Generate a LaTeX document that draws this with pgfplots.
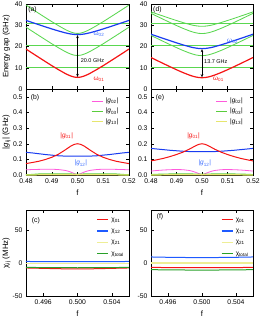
\documentclass[border=0pt]{standalone}
\usepackage{fontspec}
\setmainfont{Liberation Sans}
\usepackage{pgfplots}
\usepackage{pgfplotstable}
\pgfplotsset{compat=1.18}
\usetikzlibrary{arrows.meta}

\definecolor{cred}{RGB}{245,20,20}
\definecolor{cblue}{RGB}{25,60,240}
\definecolor{cbluet}{RGB}{60,110,255}
\definecolor{cgreen}{RGB}{90,215,80}
\definecolor{cpink}{RGB}{255,90,220}
\definecolor{cgreen3}{RGB}{90,205,60}
\definecolor{cyellow}{RGB}{230,230,110}
\definecolor{chiyellow}{RGB}{238,238,150}
\definecolor{chigreen}{RGB}{40,160,40}
\definecolor{chiblue}{RGB}{30,90,255}

\pgfplotstableread{
f w01 w02 gA gB
0.48 18.80 32.29 29.10 39.50
0.4825 16.82 31.27 27.12 37.52
0.485 14.86 30.25 25.16 35.56
0.4875 12.93 29.25 23.23 33.63
0.49 11.00 28.28 21.30 31.70
0.4925 9.18 27.35 19.48 29.88
0.495 7.46 26.51 17.76 28.16
0.49625 6.70 26.15 17.00 27.40
0.4975 6.06 25.86 16.36 26.76
0.49875 5.61 25.67 15.91 26.31
0.5 5.45 25.60 15.75 26.15
0.50125 5.61 25.67 15.91 26.31
0.5025 6.06 25.86 16.36 26.76
0.50375 6.70 26.15 17.00 27.40
0.505 7.46 26.51 17.76 28.16
0.5075 9.18 27.35 19.48 29.88
0.51 11.00 28.28 21.30 31.70
0.5125 12.93 29.25 23.23 33.63
0.515 14.86 30.25 25.16 35.56
0.5175 16.82 31.27 27.12 37.52
0.52 18.80 32.29 29.10 39.50
}\tabA

\pgfplotstableread{
f w01 w02 gA gB gC
0.48 14.80 25.79 25.20 35.60 36.29
0.4825 13.34 24.75 23.74 34.14 35.25
0.485 11.89 23.72 22.29 32.69 34.22
0.4875 10.46 22.71 20.86 31.26 33.21
0.49 9.07 21.72 19.47 29.87 32.22
0.4925 7.75 20.78 18.15 28.55 31.28
0.495 6.57 19.93 16.97 27.37 30.43
0.49625 6.07 19.56 16.47 26.87 30.06
0.4975 5.66 19.27 16.06 26.46 29.77
0.49875 5.39 19.07 15.79 26.19 29.57
0.5 5.30 19.00 15.70 26.10 29.50
0.50125 5.39 19.07 15.79 26.19 29.57
0.5025 5.66 19.27 16.06 26.46 29.77
0.50375 6.07 19.56 16.47 26.87 30.06
0.505 6.57 19.93 16.97 27.37 30.43
0.5075 7.75 20.78 18.15 28.55 31.28
0.51 9.07 21.72 19.47 29.87 32.22
0.5125 10.46 22.71 20.86 31.26 33.21
0.515 11.89 23.72 22.29 32.69 34.22
0.5175 13.34 24.75 23.74 34.14 35.25
0.52 14.80 25.79 25.20 35.60 36.29
}\tabD

\pgfplotstableread{
f g01 g12 g02 g03 g13
0.48 0.073 0.145 0.033 0.001 0.000
0.4825 0.080 0.141 0.035 0.003 0.000
0.485 0.088 0.136 0.036 0.006 0.001
0.4875 0.099 0.131 0.037 0.007 0.001
0.49 0.113 0.127 0.037 0.007 0.001
0.4925 0.132 0.123 0.035 0.007 0.001
0.495 0.158 0.121 0.030 0.007 0.001
0.49625 0.172 0.1205 0.025 0.007 0.001
0.4975 0.186 0.120 0.018 0.006 0.001
0.49875 0.196 0.120 0.009 0.005 0.001
0.5 0.200 0.120 0.000 0.004 0.001
0.50125 0.196 0.120 0.009 0.005 0.001
0.5025 0.186 0.120 0.018 0.006 0.001
0.50375 0.172 0.1205 0.025 0.007 0.001
0.505 0.158 0.121 0.030 0.007 0.001
0.5075 0.132 0.123 0.035 0.007 0.001
0.51 0.113 0.127 0.037 0.007 0.001
0.5125 0.099 0.131 0.037 0.007 0.001
0.515 0.088 0.136 0.036 0.006 0.001
0.5175 0.080 0.141 0.035 0.003 0.000
0.52 0.073 0.145 0.033 0.001 0.000
}\tabB

\pgfplotstableread{
f g01 g12 g02 g03 g13
0.48 0.090 0.170 0.025 0.002 0.000
0.4825 0.098 0.166 0.029 0.004 0.000
0.485 0.107 0.162 0.032 0.005 0.001
0.4875 0.118 0.158 0.034 0.006 0.001
0.49 0.131 0.155 0.035 0.006 0.001
0.4925 0.146 0.152 0.034 0.006 0.001
0.495 0.165 0.150 0.029 0.006 0.001
0.49625 0.176 0.150 0.024 0.006 0.001
0.4975 0.187 0.150 0.017 0.005 0.001
0.49875 0.196 0.150 0.009 0.005 0.001
0.5 0.200 0.150 0.000 0.004 0.001
0.50125 0.196 0.150 0.009 0.005 0.001
0.5025 0.187 0.150 0.017 0.005 0.001
0.50375 0.176 0.150 0.024 0.006 0.001
0.505 0.165 0.150 0.029 0.006 0.001
0.5075 0.146 0.152 0.034 0.006 0.001
0.51 0.131 0.155 0.035 0.006 0.001
0.5125 0.118 0.158 0.034 0.006 0.001
0.515 0.107 0.162 0.032 0.005 0.001
0.5175 0.098 0.166 0.029 0.004 0.000
0.52 0.090 0.170 0.025 0.002 0.000
}\tabE

\pgfplotstableread{
f c01 c12 c21 ctot
0.494 -7.6 2.2 -0.8 -6.8
0.496 -8.2 2.0 -0.8 -7.0
0.498 -8.8 1.9 -0.8 -7.2
0.500 -9.0 1.9 -0.8 -7.3
0.502 -8.8 1.9 -0.8 -7.2
0.504 -8.2 2.0 -0.8 -7.0
0.506 -7.6 2.2 -0.8 -6.8
}\tabC

\pgfplotstableread{
f c01 c12 c21 ctot
0.494 -6.8 9.0 -0.5 -10.2
0.496 -7.0 8.5 -0.5 -10.5
0.498 -7.1 8.2 -0.5 -10.7
0.500 -7.2 8.1 -0.5 -10.8
0.502 -7.1 8.2 -0.5 -10.7
0.504 -7.0 8.5 -0.5 -10.5
0.506 -6.8 9.0 -0.5 -10.2
}\tabF

\pgfplotsset{
  panel/.style={
    scale only axis, anchor=south west, clip=true,
    tick align=inside, major tick length=2.8pt,
    /pgf/number format/assume math mode=true,
    tick label style={font=\fontsize{6.8}{8}\selectfont},
    label style={font=\fontsize{7.8}{9}\selectfont},
    every tick/.style={black, line width=0.4pt},
    axis line style={line width=0.5pt},
    xtick pos=both, ytick pos=both,
    legend cell align=left,
    legend image post style={xscale=0.65, line width=1.3pt},
    legend style={draw=none, fill=none, font=\fontsize{6.5}{7.5}\selectfont,
      nodes={inner sep=0.4pt, text height=4.8pt, text depth=1.7pt},
      column sep=2pt},
  },
  toprow/.style={panel, width=103pt, height=85pt, xmin=0.48, xmax=0.52, ymin=0, ymax=40,
    xtick={0.49,0.5,0.51}, xticklabels={}, ytick={0,10,20,30,40}},
  midrow/.style={panel, width=103pt, height=86pt, xmin=0.48, xmax=0.52, ymin=0, ymax=0.55,
    xtick={0.48,0.49,0.5,0.51,0.52}, ytick={0,0.1,0.2,0.3,0.4,0.5},
    xticklabel style={/pgf/number format/.cd, fixed, fixed zerofill, precision=2},
    yticklabel style={/pgf/number format/.cd, fixed, fixed zerofill, precision=1},
    xlabel={f}, xlabel style={at={(axis description cs:0.5,-0.205)}, anchor=center},
    legend style={at={(axis description cs:0.60,0.925)}, anchor=north west, row sep=2.8pt}},
  botrow/.style={panel, width=103pt, height=86pt, xmin=0.494, xmax=0.506, ymin=-50, ymax=80,
    xtick={0.496,0.5,0.504}, ytick={-50,0,50},
    xticklabel style={/pgf/number format/.cd, fixed, fixed zerofill, precision=3},
    xlabel={f}, xlabel style={at={(axis description cs:0.5,-0.205)}, anchor=center},
    legend style={at={(axis description cs:0.655,0.955)}, anchor=north west, row sep=4.0pt}},
  gl/.style={cgreen, line width=0.85pt},
}

\begin{document}
\begin{tikzpicture}
\useasboundingbox (0,0) rectangle (260pt,317pt);

% (a)
\begin{axis}[toprow, at={(26pt,228pt)},
  ylabel={Energy gap (GHz)}, ylabel style={at={(axis description cs:-0.19,0.5)}, anchor=center}]
\addplot[gl] coordinates {(0.48,10.2) (0.52,10.2)};
\addplot[gl] coordinates {(0.48,20.6) (0.52,20.6)};
\addplot[gl] coordinates {(0.48,30.9) (0.52,30.9)};
\addplot[gl] table[x=f,y=gA] {\tabA};
\addplot[gl] table[x=f,y=gB] {\tabA};
\addplot[cblue, line width=1.2pt] table[x=f,y=w02] {\tabA};
\addplot[cred, line width=1.2pt] table[x=f,y=w01] {\tabA};
\draw[{Stealth[length=3pt,width=2.6pt]}-{Stealth[length=3pt,width=2.6pt]}, line width=0.5pt] (axis cs:0.5,5.7) -- (axis cs:0.5,25.35);
\node[anchor=west, inner sep=0pt, font=\fontsize{5.5}{6.5}\selectfont] at (axis cs:0.5012,13.3) {20.0 GHz};
\node[anchor=west, inner sep=0pt, text=cbluet, font=\fontsize{6.5}{7.5}\selectfont] at (axis cs:0.5062,25.6) {ω\textsubscript{02}};
\node[anchor=west, inner sep=0pt, text=cred, font=\fontsize{6.5}{7.5}\selectfont] at (axis cs:0.5062,4.6) {ω\textsubscript{01}};
\node[anchor=west, inner sep=0pt, font=\fontsize{6.8}{8}\selectfont] at (rel axis cs:0.02,0.935) {(a)};
\end{axis}

% (d)
\begin{axis}[toprow, at={(151pt,228pt)}, width=102pt]
\addplot[gl] coordinates {(0.48,10.2) (0.52,10.2)};
\addplot[gl] coordinates {(0.48,20.6) (0.52,20.6)};
\addplot[gl] coordinates {(0.48,30.9) (0.52,30.9)};
\addplot[gl] table[x=f,y=gA] {\tabD};
\addplot[gl] table[x=f,y=gB] {\tabD};
\addplot[gl] table[x=f,y=gC] {\tabD};
\addplot[cblue, line width=1.2pt] table[x=f,y=w02] {\tabD};
\addplot[cred, line width=1.2pt] table[x=f,y=w01] {\tabD};
\draw[{Stealth[length=3pt,width=2.6pt]}-{Stealth[length=3pt,width=2.6pt]}, line width=0.5pt] (axis cs:0.5,5.55) -- (axis cs:0.5,18.75);
\node[anchor=west, inner sep=0pt, font=\fontsize{5.5}{6.5}\selectfont] at (axis cs:0.5008,12.7) {13.7 GHz};
\node[anchor=west, inner sep=0pt, text=cbluet, font=\fontsize{6.5}{7.5}\selectfont] at (axis cs:0.5098,22.6) {ω\textsubscript{02}};
\node[anchor=west, inner sep=0pt, text=cred, font=\fontsize{6.5}{7.5}\selectfont] at (axis cs:0.5043,4.4) {ω\textsubscript{01}};
\node[anchor=west, inner sep=0pt, font=\fontsize{6.8}{8}\selectfont] at (rel axis cs:0.02,0.93) {(d)};
\end{axis}

% (b)
\begin{axis}[midrow, at={(26pt,142pt)},
  ylabel={|\textit{g}\textsubscript{ij}| (GHz)}, ylabel style={at={(axis description cs:-0.19,0.5)}, anchor=center}]
\addplot[cpink, line width=0.8pt] table[x=f,y=g02] {\tabB};
\addlegendentry{|\textit{g}\textsubscript{02}|}
\addplot[cgreen3, line width=1.2pt] table[x=f,y=g03] {\tabB};
\addlegendentry{|\textit{g}\textsubscript{03}|}
\addplot[cyellow, line width=1.2pt] table[x=f,y=g13] {\tabB};
\addlegendentry{|\textit{g}\textsubscript{13}|}
\addplot[cblue, line width=1.0pt, forget plot] table[x=f,y=g12] {\tabB};
\addplot[cred, line width=1.0pt, forget plot] table[x=f,y=g01] {\tabB};
\node[text=cred, inner sep=0pt, font=\fontsize{6.5}{7.5}\selectfont] at (axis cs:0.4958,0.252) {|\textit{g}\textsubscript{01}|};
\node[text=cbluet, inner sep=0pt, font=\fontsize{6.5}{7.5}\selectfont] at (axis cs:0.5013,0.075) {|\textit{g}\textsubscript{12}|};
\node[anchor=west, inner sep=0pt, font=\fontsize{6.8}{8}\selectfont] at (rel axis cs:0.045,0.895) {(b)};
\end{axis}

% (e)
\begin{axis}[midrow, at={(151pt,142pt)}, width=102pt]
\addplot[cpink, line width=0.8pt] table[x=f,y=g02] {\tabE};
\addlegendentry{|\textit{g}\textsubscript{02}|}
\addplot[cgreen3, line width=1.2pt] table[x=f,y=g03] {\tabE};
\addlegendentry{|\textit{g}\textsubscript{03}|}
\addplot[cyellow, line width=1.2pt] table[x=f,y=g13] {\tabE};
\addlegendentry{|\textit{g}\textsubscript{13}|}
\addplot[cblue, line width=1.0pt, forget plot] table[x=f,y=g12] {\tabE};
\addplot[cred, line width=1.0pt, forget plot] table[x=f,y=g01] {\tabE};
\node[text=cred, inner sep=0pt, font=\fontsize{6.5}{7.5}\selectfont] at (axis cs:0.4967,0.252) {|\textit{g}\textsubscript{01}|};
\node[text=cbluet, inner sep=0pt, font=\fontsize{6.5}{7.5}\selectfont] at (axis cs:0.5011,0.075) {|\textit{g}\textsubscript{12}|};
\node[anchor=west, inner sep=0pt, font=\fontsize{6.8}{8}\selectfont] at (rel axis cs:0.045,0.895) {(e)};
\end{axis}

% (c)
\begin{axis}[botrow, at={(26pt,21pt)},
  ylabel={χ\textsubscript{ij} (MHz)}, ylabel style={at={(axis description cs:-0.19,0.5)}, anchor=center}]
\addplot[cred, line width=1.0pt] table[x=f,y=c01] {\tabC};
\addlegendentry{χ\textsubscript{01}}
\addplot[chiblue, line width=1.0pt] table[x=f,y=c12] {\tabC};
\addlegendentry{χ\textsubscript{12}}
\addplot[chiyellow, line width=1.6pt] table[x=f,y=c21] {\tabC};
\addlegendentry{χ\textsubscript{21}}
\addplot[chigreen, line width=1.0pt] table[x=f,y=ctot] {\tabC};
\addlegendentry{χ\textsubscript{total}}
\node[anchor=west, inner sep=0pt, font=\fontsize{6.8}{8}\selectfont] at (rel axis cs:0.055,0.88) {(c)};
\end{axis}

% (f)
\begin{axis}[botrow, at={(151pt,21pt)}, width=102pt]
\addplot[cred, line width=1.0pt] table[x=f,y=c01] {\tabF};
\addlegendentry{χ\textsubscript{01}}
\addplot[chiblue, line width=1.0pt] table[x=f,y=c12] {\tabF};
\addlegendentry{χ\textsubscript{12}}
\addplot[chiyellow, line width=2.2pt] table[x=f,y=c21] {\tabF};
\addlegendentry{χ\textsubscript{21}}
\addplot[chigreen, line width=1.0pt] table[x=f,y=ctot] {\tabF};
\addlegendentry{χ\textsubscript{total}}
\node[anchor=west, inner sep=0pt, font=\fontsize{6.8}{8}\selectfont] at (rel axis cs:0.055,0.925) {(f)};
\end{axis}
\end{tikzpicture}
\end{document}
